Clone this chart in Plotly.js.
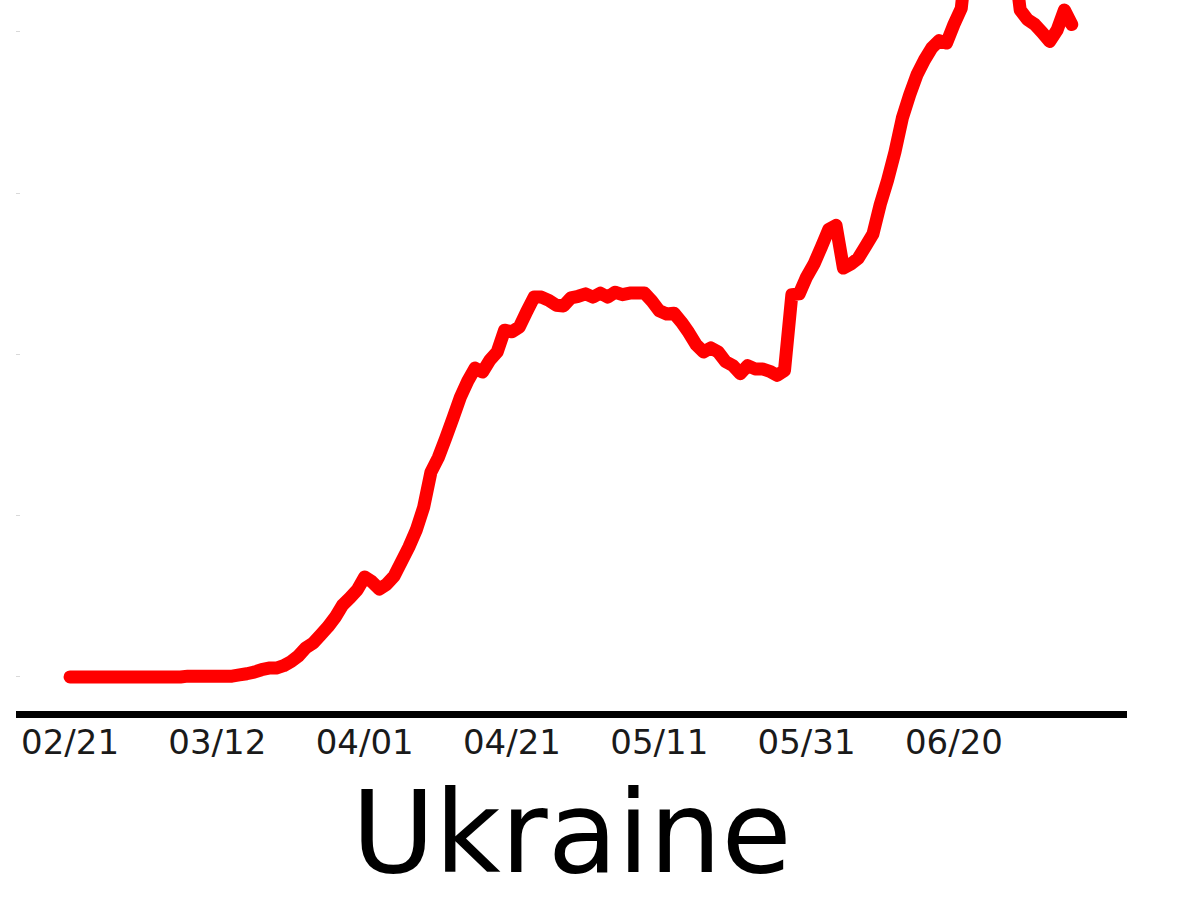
<!DOCTYPE html>
<html>
<head>
<meta charset="utf-8">
<script src="https://cdn.plot.ly/plotly-3.0.1.min.js"></script>
<style>
html,body{margin:0;padding:0;background:#fff;}
#chart{width:1200px;height:900px;}
#chart path.js-line{stroke-linejoin:round !important;stroke-linecap:round !important;}
</style>
</head>
<body>
<div id="chart"></div>
<script>
// Daily values starting 2020-02-21 (one value per day)
var startDate = '2020-02-21';
var cases = [
  0,0,0,0,0,0,0,0,0,0,
  0,0,0,0,0,0,1,1,1,1,
  1,1,1,2.5,4,6,9,11,11,14,
  19,26,36,42,52,62,74,89,98,108,
  124,118,109,115,125,143,161,182,210,254,
  272,296,321,347,367,383,378,393,403,430,
  428,434,453,471,471,467,461,460,470,472,
  475,471,476,471,477,474,476,476,476,466,
  454,450,451,440,427,412,403,408,403,391,
  386,376,386,382,382,379,374,380,474,475,
  496,512,533,555,560,507,512,519,534,549,
  586,616,651,693,722,747,765,780,789,786,
  809,829,914,938,957,963,951,932,901,827,
  815,809,799,788,802,827,809
];
var tickVals = ['2020-02-21', '2020-03-12', '2020-04-01', '2020-04-21', '2020-05-11', '2020-05-31', '2020-06-20'];
var tickLabels = ['02/21', '03/12', '04/01', '04/21', '05/11', '05/31', '06/20'];
var titleText = 'Ukraine';

function addDays(s, n) {
  var d = new Date(s + 'T00:00:00Z');
  d.setUTCDate(d.getUTCDate() + n);
  return d.toISOString().slice(0, 10);
}
var dates = cases.map(function (_, i) { return addDays(startDate, i); });

var trace = {
  x: dates,
  y: cases,
  type: 'scatter',
  mode: 'lines',
  line: { color: '#ff0000', width: 13, simplify: false },
  hoverinfo: 'skip'
};

var layout = {
  width: 1200,
  height: 900,
  paper_bgcolor: '#ffffff',
  plot_bgcolor: '#ffffff',
  margin: { l: 16, r: 73, t: 0, b: 189 },
  showlegend: false,
  font: { family: 'DejaVu Sans', color: '#000' },
  title: {
    text: titleText,
    font: { family: 'DejaVu Sans', size: 114, color: '#000' },
    xref: 'paper', x: 0.5, xanchor: 'center',
    yref: 'container', y: 0.031, yanchor: 'bottom'
  },
  xaxis: {
    type: 'date',
    range: ['2020-02-13 16:00', '2020-07-13 12:00'],
    tickmode: 'array',
    tickvals: tickVals,
    ticktext: tickLabels,
    ticks: '',
    showgrid: false,
    zeroline: false,
    showline: true,
    linecolor: '#000',
    linewidth: 7,
    tickfont: { family: 'DejaVu Sans', size: 34, color: '#1a1a1a' },
    ticklabelstandoff: -5
  },
  yaxis: {
    range: [-42.2, 839.4],
    tick0: 0,
    dtick: 200,
    ticks: 'inside',
    ticklen: 4,
    tickwidth: 1,
    tickcolor: '#d9d9d9',
    showticklabels: false,
    showgrid: false,
    zeroline: false,
    showline: false
  }
};

Plotly.newPlot('chart', [trace], layout, { staticPlot: true, displayModeBar: false });
</script>
</body>
</html>
